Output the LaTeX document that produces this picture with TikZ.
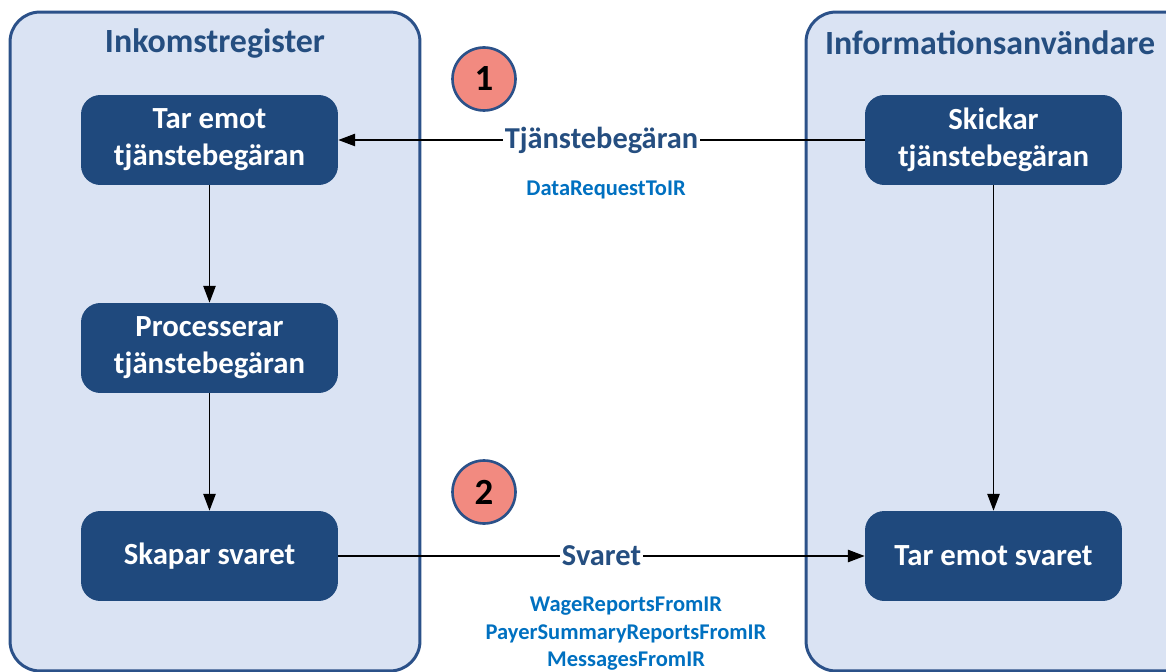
\documentclass[tikz,border=0pt]{standalone}
\usepackage{fontspec}
\setmainfont{Carlito}
\usetikzlibrary{arrows.meta}
\definecolor{panelfill}{HTML}{DAE3F3}
\definecolor{paneldraw}{HTML}{2B5189}
\definecolor{boxblue}{HTML}{1F497D}
\definecolor{labelblue}{HTML}{254E80}
\definecolor{msgblue}{HTML}{0070C0}
\definecolor{badgefill}{HTML}{F28A80}
\begin{document}
\begin{tikzpicture}[x=0.02cm,y=-0.02cm,
    panel/.style={draw=paneldraw,line width=1.7pt,fill=panelfill,rounded corners=17pt,
      minimum width=8.2cm,minimum height=13.18cm},
    paneltitle/.style={text=labelblue,font=\bfseries\fontsize{19.3}{23}\selectfont},
    stepbox/.style={fill=boxblue,text=white,rounded corners=11pt,align=center,
      minimum width=5.14cm,minimum height=1.8cm,font=\bfseries\fontsize{17.5}{21}\selectfont},
    badge/.style={circle,draw=paneldraw,line width=1.5pt,fill=badgefill,minimum size=1.26cm,
      font=\bfseries\fontsize{21}{24}\selectfont},
    flowlabel/.style={fill=white,inner sep=1pt,text=labelblue,font=\bfseries\fontsize{17.3}{21}\selectfont},
    msg/.style={text=msgblue,align=center,font=\bfseries\fontsize{12.8}{15.6}\selectfont}]
  \clip (0,0) rectangle (1166,672);
  \draw
    (215,341.5) node[panel] (ir){}
    (1011,341.5) node[panel] (iu){}
    (215,43) node[paneltitle] (irtitle){Inkomstregister}
    (990,43) node[paneltitle] (iutitle){Informationsanvändare}
    (209.5,140) node[stepbox] (tar){Tar emot\\tjänstebegäran}
    (209.5,348) node[stepbox] (proc){Processerar\\tjänstebegäran}
    (209.5,556) node[stepbox] (skapar){Skapar svaret}
    (993.5,140) node[stepbox] (skickar){Skickar\\tjänstebegäran}
    (993.5,556) node[stepbox] (svar){Tar emot svaret}
    (484,79) node[badge] (one){1}
    (484,492) node[badge] (two){2}
    (606,190) node[msg] (req){DataRequestToIR}
    (626,634) node[msg] (resp){WageReportsFromIR\\PayerSummaryReportsFromIR\\MessagesFromIR};
  \begin{scope}[line width=0.75pt,-{Triangle[length=9.5pt,width=7pt]}]
    \draw (skickar) to node[flowlabel]{Tjänstebegäran} (tar);
    \draw (tar) to (proc);
    \draw (proc) to (skapar);
    \draw (skickar) to (svar);
    \draw (skapar) to node[flowlabel]{Svaret} (svar);
  \end{scope}
\end{tikzpicture}
\end{document}
